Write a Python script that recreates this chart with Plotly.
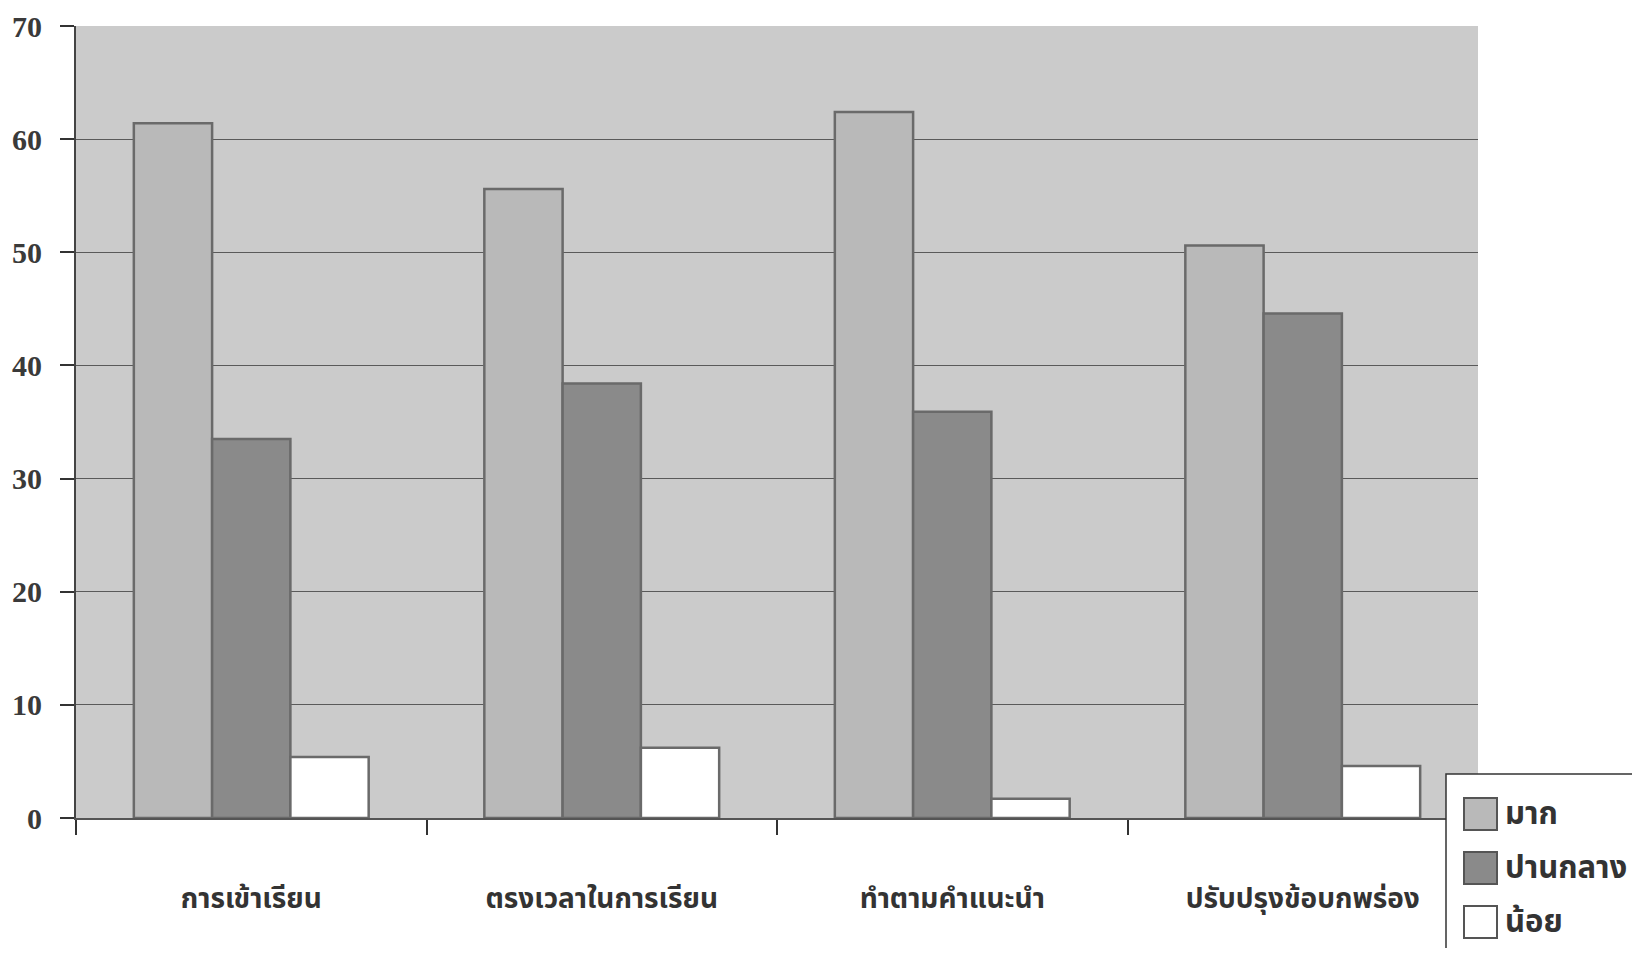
import plotly.graph_objects as go

categories = ["การเข้าเรียน", "ตรงเวลาในการเรียน", "ทำตามคำแนะนำ", "ปรับปรุงข้อบกพร่อง"]
series_names = ["มาก", "ปานกลาง", "น้อย"]
val_mak = [61.4, 55.6, 62.4, 50.6]
val_panklang = [33.5, 38.4, 35.9, 44.6]
val_noi = [5.4, 6.2, 1.7, 4.6]
y_ticks = [0, 10, 20, 30, 40, 50, 60, 70]

fills = ["#b9b9b9", "#8a8a8a", "#ffffff"]
edge = "#6a6a6a"
series_vals = [val_mak, val_panklang, val_noi]

fig = go.Figure()
for name, vals, col in zip(series_names, series_vals, fills):
    fig.add_trace(go.Bar(
        x=categories, y=vals, name=name,
        marker=dict(color=col, line=dict(color=edge, width=2.5)),
        showlegend=False,
    ))

# page has an 8px body margin; figure sized to fit the 1640x956 window
W, H = 1624, 940
OFF = 8
L, R, T, B = 68, 154, 18, 130
PW, PH = W - L - R, H - T - B

def px_x(x):
    return (x - OFF - L) / PW

def px_y(y):
    return (H - B - (y - OFF)) / PH

fig.update_layout(
    width=W, height=H,
    margin=dict(l=L, r=R, t=T, b=B, pad=0),
    paper_bgcolor="#ffffff",
    plot_bgcolor="#cbcbcb",
    barmode="group",
    bargap=0.33,
    bargroupgap=0,
    font=dict(family="Liberation Serif", color="#333333"),
)

fig.update_yaxes(
    range=[0, 70], tickvals=y_ticks, ticks="outside", ticklen=14, tickwidth=1.5,
    tickcolor="#333333", showline=True, linecolor="#444444", linewidth=2,
    showgrid=True, gridcolor="#5a5a5a", gridwidth=1, zeroline=False,
    tickfont=dict(family="Liberation Serif", size=30, weight="bold", color="#3a3a3a"),
    ticklabelstandoff=12, automargin=False, ticklabeloverflow="allow",
)
fig.update_xaxes(
    type="category", range=[-0.5, 3.5], tickson="boundaries", ticks="outside",
    ticklen=15, tickwidth=1.5, tickcolor="#333333", showline=True,
    linecolor="#555555", linewidth=2, showgrid=False, automargin=False,
    tickfont=dict(family="Noto Sans Thai, Loma, Garuda, Tlwg Typo, sans-serif", size=28, weight="bold", color="#333333"),
    ticklabelstandoff=54,
)

# manual legend (large swatches) built from series names / fills
fig.add_shape(type="rect", xref="paper", yref="paper",
              x0=px_x(1446), x1=px_x(1650), y0=px_y(774), y1=px_y(966),
              line=dict(color="#333333", width=1.5), fillcolor="#ffffff", layer="above")

row_y = [814, 868, 922]
for name, col, yy in zip(series_names, fills, row_y):
    fig.add_shape(type="rect", xref="paper", yref="paper",
                  x0=px_x(1464), x1=px_x(1497), y0=px_y(yy - 16), y1=px_y(yy + 16),
                  line=dict(color="#555555", width=2), fillcolor=col, layer="above")
    fig.add_annotation(text=name, xref="paper", yref="paper",
                       x=px_x(1503), y=px_y(yy),
                       xanchor="left", yanchor="middle", showarrow=False,
                       font=dict(family="Noto Sans Thai, Loma, Garuda, sans-serif", size=31, weight="bold", color="#333333"))

fig.write_html("out.html")
